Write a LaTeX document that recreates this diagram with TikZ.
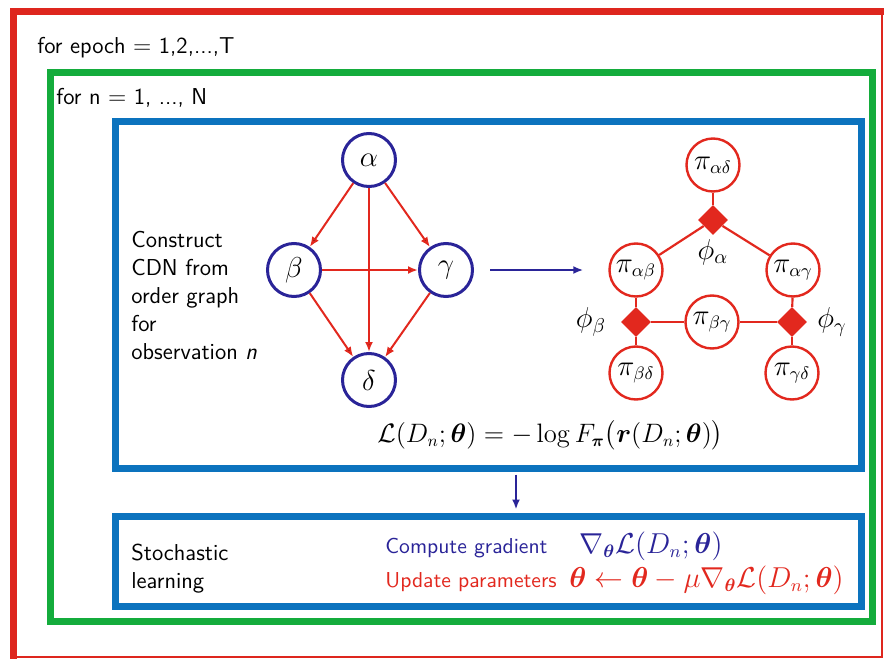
\documentclass[tikz,border=0pt]{standalone}
\usepackage{amsmath}
\usepackage{amssymb}
\usepackage{bm}
\usetikzlibrary{positioning,shapes.geometric,arrows.meta}
\renewcommand{\familydefault}{\sfdefault}
\definecolor{framered}{RGB}{222,38,30}
\definecolor{framegreen}{RGB}{20,172,60}
\definecolor{boxblue}{RGB}{12,115,190}
\definecolor{navy}{RGB}{42,36,152}
\definecolor{cdnred}{RGB}{226,40,30}
\def\bth{\boldsymbol{\theta}}
\def\Ls{\mathcal{L}}

\begin{document}
\begin{tikzpicture}[x=0.5pt,y=-0.5pt,on grid,
	>={Latex[length=5pt,width=4pt]},
	font=\fontsize{11.5}{14}\selectfont,
	var/.style={circle,draw=navy,line width=1.5pt,minimum size=26.5pt,inner sep=0pt,font=\fontsize{15}{18}\selectfont},
	pot/.style={circle,draw=cdnred,line width=1.2pt,minimum size=26.5pt,inner sep=0pt,font=\fontsize{13.5}{16}\selectfont},
	fac/.style={diamond,fill=cdnred,minimum size=15pt,inner sep=0pt},
	ord/.style={->,draw=cdnred,line width=1pt},
	link/.style={draw=cdnred,line width=1.1pt},
	loopbox/.style={rectangle,draw=boxblue,line width=3.5pt,inner sep=0pt},
	steptext/.style={anchor=base west,inner sep=0pt,font=\fontsize{10.8}{13}\selectfont},
	bigmath/.style={font=\fontsize{13.3}{16}\selectfont,inner sep=0pt}]
\useasboundingbox (0,0) rectangle (885,659);

% outer loop frames
\draw[framered,line width=3.5pt] (13.5,659) -- (13.5,11.5) -- (884,11.5);
\draw[framered,line width=0.8pt] (882,11.5) -- (882,657) -- (13.5,657);
\draw[framegreen,line width=3.5pt] (50,72) rectangle (872,621);
\node[anchor=base west,inner sep=0pt] (epoch) at (37,53) {for epoch $=$ 1,2,...,T};
\node[anchor=base west,inner sep=0pt] (obs) at (56,104) {for n $=$ 1, ..., N};

% inner boxes
\node[loopbox,minimum width=373pt,minimum height=173.5pt] (cdnbox) at (488,294.5) {};
\node[loopbox,minimum width=373pt,minimum height=45pt] (learnbox) at (488,561) {};
\draw[->,navy,line width=1pt,shorten <=1.5pt,shorten >=1.5pt]
	([xshift=14pt]cdnbox.south) -- ([xshift=14pt]learnbox.north);

\node[anchor=north west,align=left,inner sep=0pt] (cdntext) at (131,231)
	{Construct\\CDN from\\order graph\\for\\observation \textsl{n}};

% order graph
\node[var]	(alpha)									at (369,160)	{$\alpha$};
\node[var]	(beta)		[below left=55pt and 37.5pt of alpha]		{$\beta$};
\node[var]	(gamma)		[below right=55pt and 38.5pt of alpha]		{$\gamma$};
\node[var]	(delta)		[below=110pt of alpha]						{$\delta$};
\path[ord]
(alpha)		edge	(beta)
			edge	(gamma)
			edge	(delta)
(beta)		edge	(gamma)
			edge	(delta)
(gamma)		edge	(delta);

% cumulative distribution network
\node[pot]	(pad)									at (713,165)	{$\pi_{\alpha\delta}$};
\node[fac]	(phia)		[below=27.5pt of pad]						{};
\node[pot]	(pab)		[below left=25pt and 38.5pt of phia]		{$\pi_{\alpha\beta}$};
\node[pot]	(pag)		[below right=25pt and 40pt of phia]			{$\pi_{\alpha\gamma}$};
\node[fac]	(phib)		[below=26pt of pab]							{};
\node[pot]	(pbg)		[right=38pt of phib]						{$\pi_{\beta\gamma}$};
\node[fac]	(phig)		[right=40pt of pbg]							{};
\node[pot]	(pbd)		[below=25.5pt of phib]						{$\pi_{\beta\delta}$};
\node[pot]	(pgd)		[below=25.5pt of phig]						{$\pi_{\gamma\delta}$};
\node[font=\fontsize{14}{16}\selectfont] (lphia) [below=16pt of phia]	{$\phi_\alpha$};
\node[font=\fontsize{14}{16}\selectfont] (lphib) [left=22.5pt of phib]	{$\phi_\beta$};
\node[font=\fontsize{14}{16}\selectfont] (lphig) [right=20pt of phig]	{$\phi_\gamma$};
\path[link]
(pad)		edge	(phia)
(phia)		edge	(pab)
			edge	(pag)
(phib)		edge	(pab)
			edge	(pbd)
			edge	(pbg)
(phig)		edge	(pbg)
			edge	(pag)
			edge	(pgd);

\draw[->,navy,line width=1.2pt,shorten <=8pt,shorten >=12.5pt] (gamma) -- (pab);

\node[bigmath,anchor=base west] (loss) at (377,442)
	{\scalebox{0.925}{$\Ls(D_n;\bth) = -\log F_{\boldsymbol{\pi}}\bigl(\boldsymbol{r}(D_n;\bth)\bigr)$}};

% learning step
\node[anchor=north west,align=left,inner sep=0pt] (learntext) at (131,544) {Stochastic\\learning};
\node[steptext,navy] (grad) at (385,553) {Compute gradient};
\node[steptext,cdnred] (update) at (385,587) {Update parameters};
\node[bigmath,anchor=base west,navy] (gradeq) at (579,553) {$\nabla_{\bth}\Ls(D_n;\bth)$};
\node[bigmath,anchor=base west,cdnred] (updateeq) at (569,587)
	{$\bth \leftarrow \bth - \mu\nabla_{\bth}\Ls(D_n;\bth)$};
\end{tikzpicture}
\end{document}
